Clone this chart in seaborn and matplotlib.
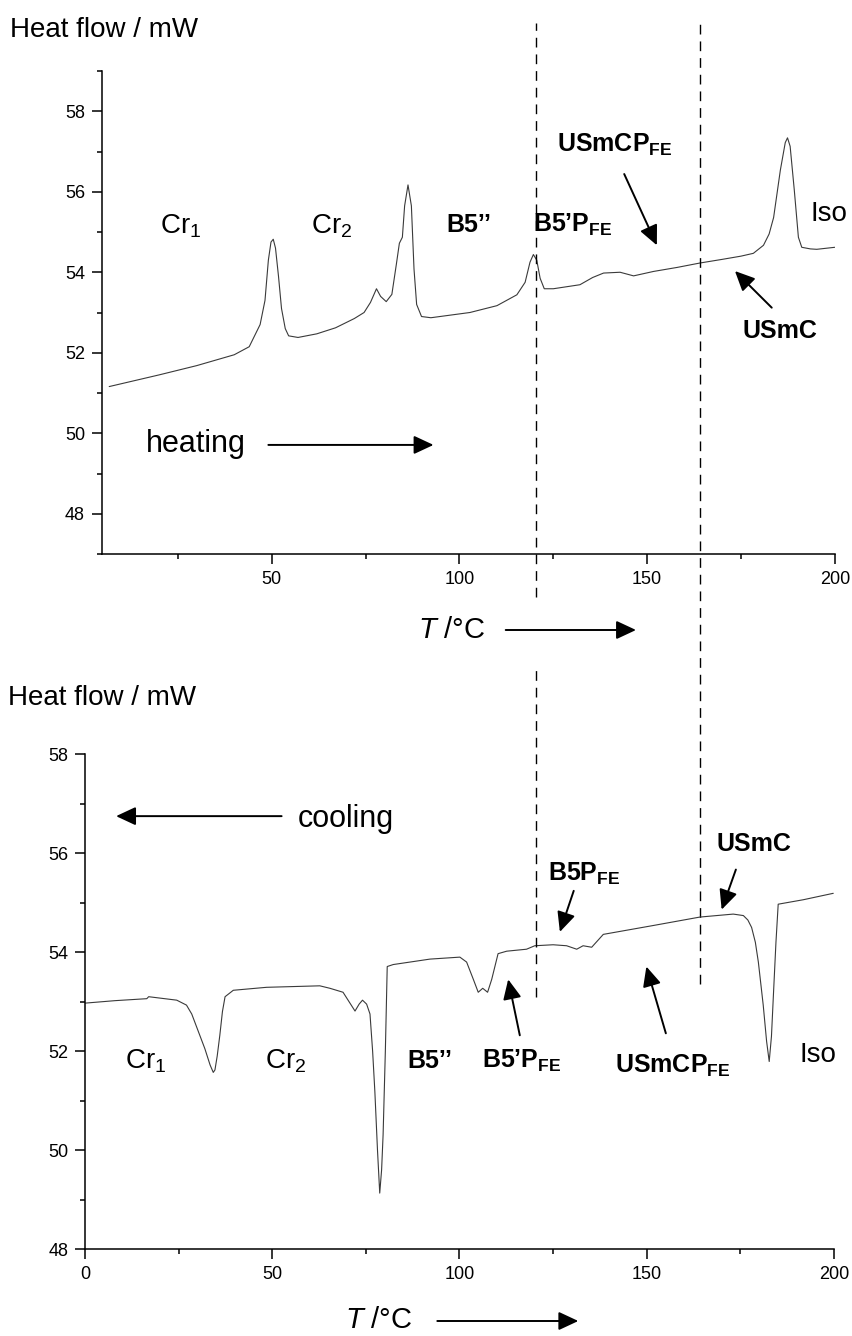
import numpy as np
import pandas as pd
import seaborn as sns
import matplotlib.pyplot as plt
from matplotlib.ticker import MultipleLocator
from matplotlib.patches import FancyArrowPatch

# DSC traces (T in degC, heat flow in mW)
heat_T = [6.7, 20, 30, 40, 44, 46.9, 48.2, 49.1, 49.8, 50.4, 51.0, 51.8, 52.6, 53.6, 54.5, 57,
          62, 67, 72, 74.6, 76.3, 77.9, 79, 80.5, 82, 83.2, 84, 84.8, 85.4, 86.3, 87.2, 87.9,
          88.6, 89.9, 92.4, 102.8, 110, 115.3, 117.5, 118.8, 119.7, 120.6, 121.5, 122.6, 125,
          132.1, 135.5, 138.4, 142.8, 146.4, 151.7, 158, 164.1, 170, 175, 178.3, 181, 182.5,
          183.7, 185.5, 186.8, 187.4, 188.1, 189.2, 190.3, 191.2, 193.5, 195.2, 200]
heat_Q = [51.16, 51.45, 51.68, 51.95, 52.15, 52.7, 53.3, 54.3, 54.75, 54.82, 54.6, 53.9, 53.1,
          52.6, 52.42, 52.38, 52.47, 52.62, 52.85, 53.0, 53.25, 53.59, 53.4, 53.27, 53.45, 54.2,
          54.72, 54.87, 55.65, 56.17, 55.65, 54.08, 53.2, 52.9, 52.87, 53.0, 53.17, 53.44, 53.75,
          54.25, 54.44, 54.3, 53.85, 53.59, 53.59, 53.69, 53.87, 53.98, 54.0, 53.91, 54.02,
          54.12, 54.23, 54.32, 54.40, 54.47, 54.67, 54.95, 55.36, 56.54, 57.22, 57.34, 57.13,
          56.05, 54.87, 54.62, 54.58, 54.57, 54.62]

cool_T = [0, 8, 16.5, 17, 24.5, 27.1, 28.5, 29.8, 31, 32, 33.4, 34.25, 34.7, 35.3, 36.0, 36.7,
          37.4, 39.6, 48.5, 62.7, 65.4, 68.9, 70.5, 72.1, 73.2, 74.1, 75.2, 76.1, 76.8, 77.4,
          78.1, 78.7, 79.2, 79.6, 80.2, 80.7, 82.3, 92.1, 100.1, 101.9, 103.7, 105.0, 106.2,
          107.5, 108.6, 110.3, 112.6, 117.9, 120.1, 125.0, 128.6, 131.3, 133.0, 135.3, 138.4,
          151.8, 164.2, 173.1, 175.8, 177.0, 178.0, 179.0, 179.8, 181.1, 182.0, 182.7, 183.3,
          183.8, 184.5, 185.1, 191.8, 199.8]
cool_Q = [52.97, 53.02, 53.06, 53.1, 53.03, 52.93, 52.75, 52.49, 52.25, 52.05, 51.72, 51.57,
          51.62, 51.9, 52.32, 52.8, 53.1, 53.23, 53.29, 53.32, 53.27, 53.19, 53.0, 52.81, 52.95,
          53.03, 52.95, 52.75, 52.0, 51.18, 50.0, 49.13, 49.6, 50.31, 52.0, 53.71, 53.75, 53.86,
          53.9, 53.8, 53.45, 53.19, 53.27, 53.19, 53.45, 53.97, 54.02, 54.06, 54.13, 54.15,
          54.13, 54.06, 54.13, 54.10, 54.36, 54.54, 54.71, 54.77, 54.74, 54.65, 54.5, 54.2,
          53.8, 52.93, 52.2, 51.79, 52.3, 53.1, 54.2, 54.97, 55.06, 55.19]

transitions = [120.4, 164.2]

W, H = 853, 1336


def fpx(x, y):
    # pixel from top-left -> figure fraction
    return x / W, 1 - y / H


sns.set_style('ticks')
plt.rcParams['font.family'] = ['Liberation Sans', 'DejaVu Sans']
plt.rcParams['mathtext.fontset'] = 'custom'
plt.rcParams['mathtext.rm'] = 'Liberation Sans'
plt.rcParams['mathtext.it'] = 'Liberation Sans:italic'
plt.rcParams['mathtext.bf'] = 'Liberation Sans:bold'
for k in ('text.color', 'axes.labelcolor', 'xtick.color', 'ytick.color', 'axes.edgecolor'):
    plt.rcParams[k] = 'black'

fig = plt.figure(figsize=(W / 100, H / 100), dpi=100)
ax1 = fig.add_axes([101.7 / W, 1 - 554 / H, 733.1 / W, 483 / H])
ax2 = fig.add_axes([85 / W, 1 - 1249 / H, 749 / W, 494.7 / H])

heat = pd.DataFrame({'T': heat_T, 'Q': heat_Q})
cool = pd.DataFrame({'T': cool_T, 'Q': cool_Q})
sns.lineplot(data=heat, x='T', y='Q', ax=ax1, color='#3a3a3a', lw=0.8)
sns.lineplot(data=cool, x='T', y='Q', ax=ax2, color='#3a3a3a', lw=0.8)

for ax in (ax1, ax2):
    ax.set_facecolor('none')
    sns.despine(ax=ax)
    for s in ('left', 'bottom'):
        ax.spines[s].set_linewidth(1.1)
        ax.spines[s].set_color('black')
    ax.xaxis.set_major_locator(MultipleLocator(50))
    ax.xaxis.set_minor_locator(MultipleLocator(25))
    ax.yaxis.set_major_locator(MultipleLocator(2))
    ax.yaxis.set_minor_locator(MultipleLocator(1))
    ax.tick_params(which='major', length=7, width=1.1, color='black', labelcolor='black',
                   labelsize=13, pad=5)
    ax.tick_params(which='minor', length=3.5, width=1.1, color='black')
    ax.set_xlabel('')
    ax.set_ylabel('')

ax1.set_xlim(4.7, 200)
ax1.set_ylim(47, 59)
ax2.set_xlim(0, 200)
ax2.set_ylim(48, 58)

# dashed transition lines
dash = dict(color='black', lw=1.0, linestyle=(0, (7, 5)), clip_on=False)
ax1.axvline(transitions[0], ymin=(554 - 597) / 483, ymax=(554 - 23) / 483, **dash)
ax1.axvline(transitions[1], ymin=(554 - 984) / 483, ymax=(554 - 23) / 483, **dash)
ax2.axvline(transitions[0], ymin=(1249 - 997) / 494.7, ymax=(1249 - 667) / 494.7, **dash)

arrow = dict(arrowstyle='-|>,head_length=0.6,head_width=0.28', color='black', lw=1.4,
             mutation_scale=20, shrinkA=0, shrinkB=0)


def label(ax, x, y, s, size=19, weight='normal'):
    ax.text(x, y, s, fontsize=size, fontweight=weight, ha='left', va='baseline', color='black')


def point(ax, tail, head):
    ax.annotate('', xy=head, xytext=tail, arrowprops=arrow)


# heating panel
label(ax1, 20.1, 54.96, r'Cr$_\mathrm{1}$', 20)
label(ax1, 60.4, 54.96, r'Cr$_\mathrm{2}$', 20)
label(ax1, 96.6, 55.01, 'B5’’', 18, 'bold')
label(ax1, 119.7, 55.01, r'B5’P$_\mathbf{FE}$', 18, 'bold')
label(ax1, 125.9, 57.0, r'USmCP$_\mathbf{FE}$', 18, 'bold')
label(ax1, 175.5, 52.36, 'USmC', 18, 'bold')
label(ax1, 193.6, 55.28, 'Iso', 20)
label(ax1, 16.5, 49.53, 'heating', 22)
point(ax1, (49.1, 49.71), (93.1, 49.71))
point(ax1, (143.9, 56.44), (152.6, 54.67))
point(ax1, (183.2, 53.12), (173.4, 54.03))

# cooling panel
label(ax2, 10.7, 51.64, r'Cr$_\mathrm{1}$', 20)
label(ax2, 48.0, 51.64, r'Cr$_\mathrm{2}$', 20)
label(ax2, 86.0, 51.66, 'B5’’', 18, 'bold')
label(ax2, 105.9, 51.66, r'B5’P$_\mathbf{FE}$', 18, 'bold')
label(ax2, 141.5, 51.57, r'USmCP$_\mathbf{FE}$', 18, 'bold')
label(ax2, 123.7, 55.45, r'B5P$_\mathbf{FE}$', 18, 'bold')
label(ax2, 168.6, 56.04, 'USmC', 18, 'bold')
label(ax2, 190.9, 51.79, 'Iso', 20)
label(ax2, 56.9, 56.54, 'cooling', 22)
point(ax2, (52.5, 56.75), (8.3, 56.75))
point(ax2, (116.1, 52.32), (113.0, 53.45))
point(ax2, (130.5, 55.24), (126.8, 54.41))
point(ax2, (173.8, 55.67), (170.0, 54.86))
point(ax2, (155.1, 52.36), (149.9, 53.71))

# axis titles placed like the original
fig.text(*fpx(10, 37), 'Heat flow / mW', fontsize=20, va='baseline', color='black')
fig.text(*fpx(8.3, 705), 'Heat flow / mW', fontsize=20, va='baseline', color='black')
fig.text(*fpx(418, 638), r'$T$ /°C', fontsize=21, va='baseline', color='black')
fig.text(*fpx(345, 1328), r'$T$ /°C', fontsize=21, va='baseline', color='black')
fig.add_artist(FancyArrowPatch(fpx(505.7, 630), fpx(636, 630),
                               transform=fig.transFigure, **arrow))
fig.add_artist(FancyArrowPatch(fpx(437.3, 1321), fpx(578.3, 1321),
                               transform=fig.transFigure, **arrow))

fig.savefig('out.png', dpi=100)
